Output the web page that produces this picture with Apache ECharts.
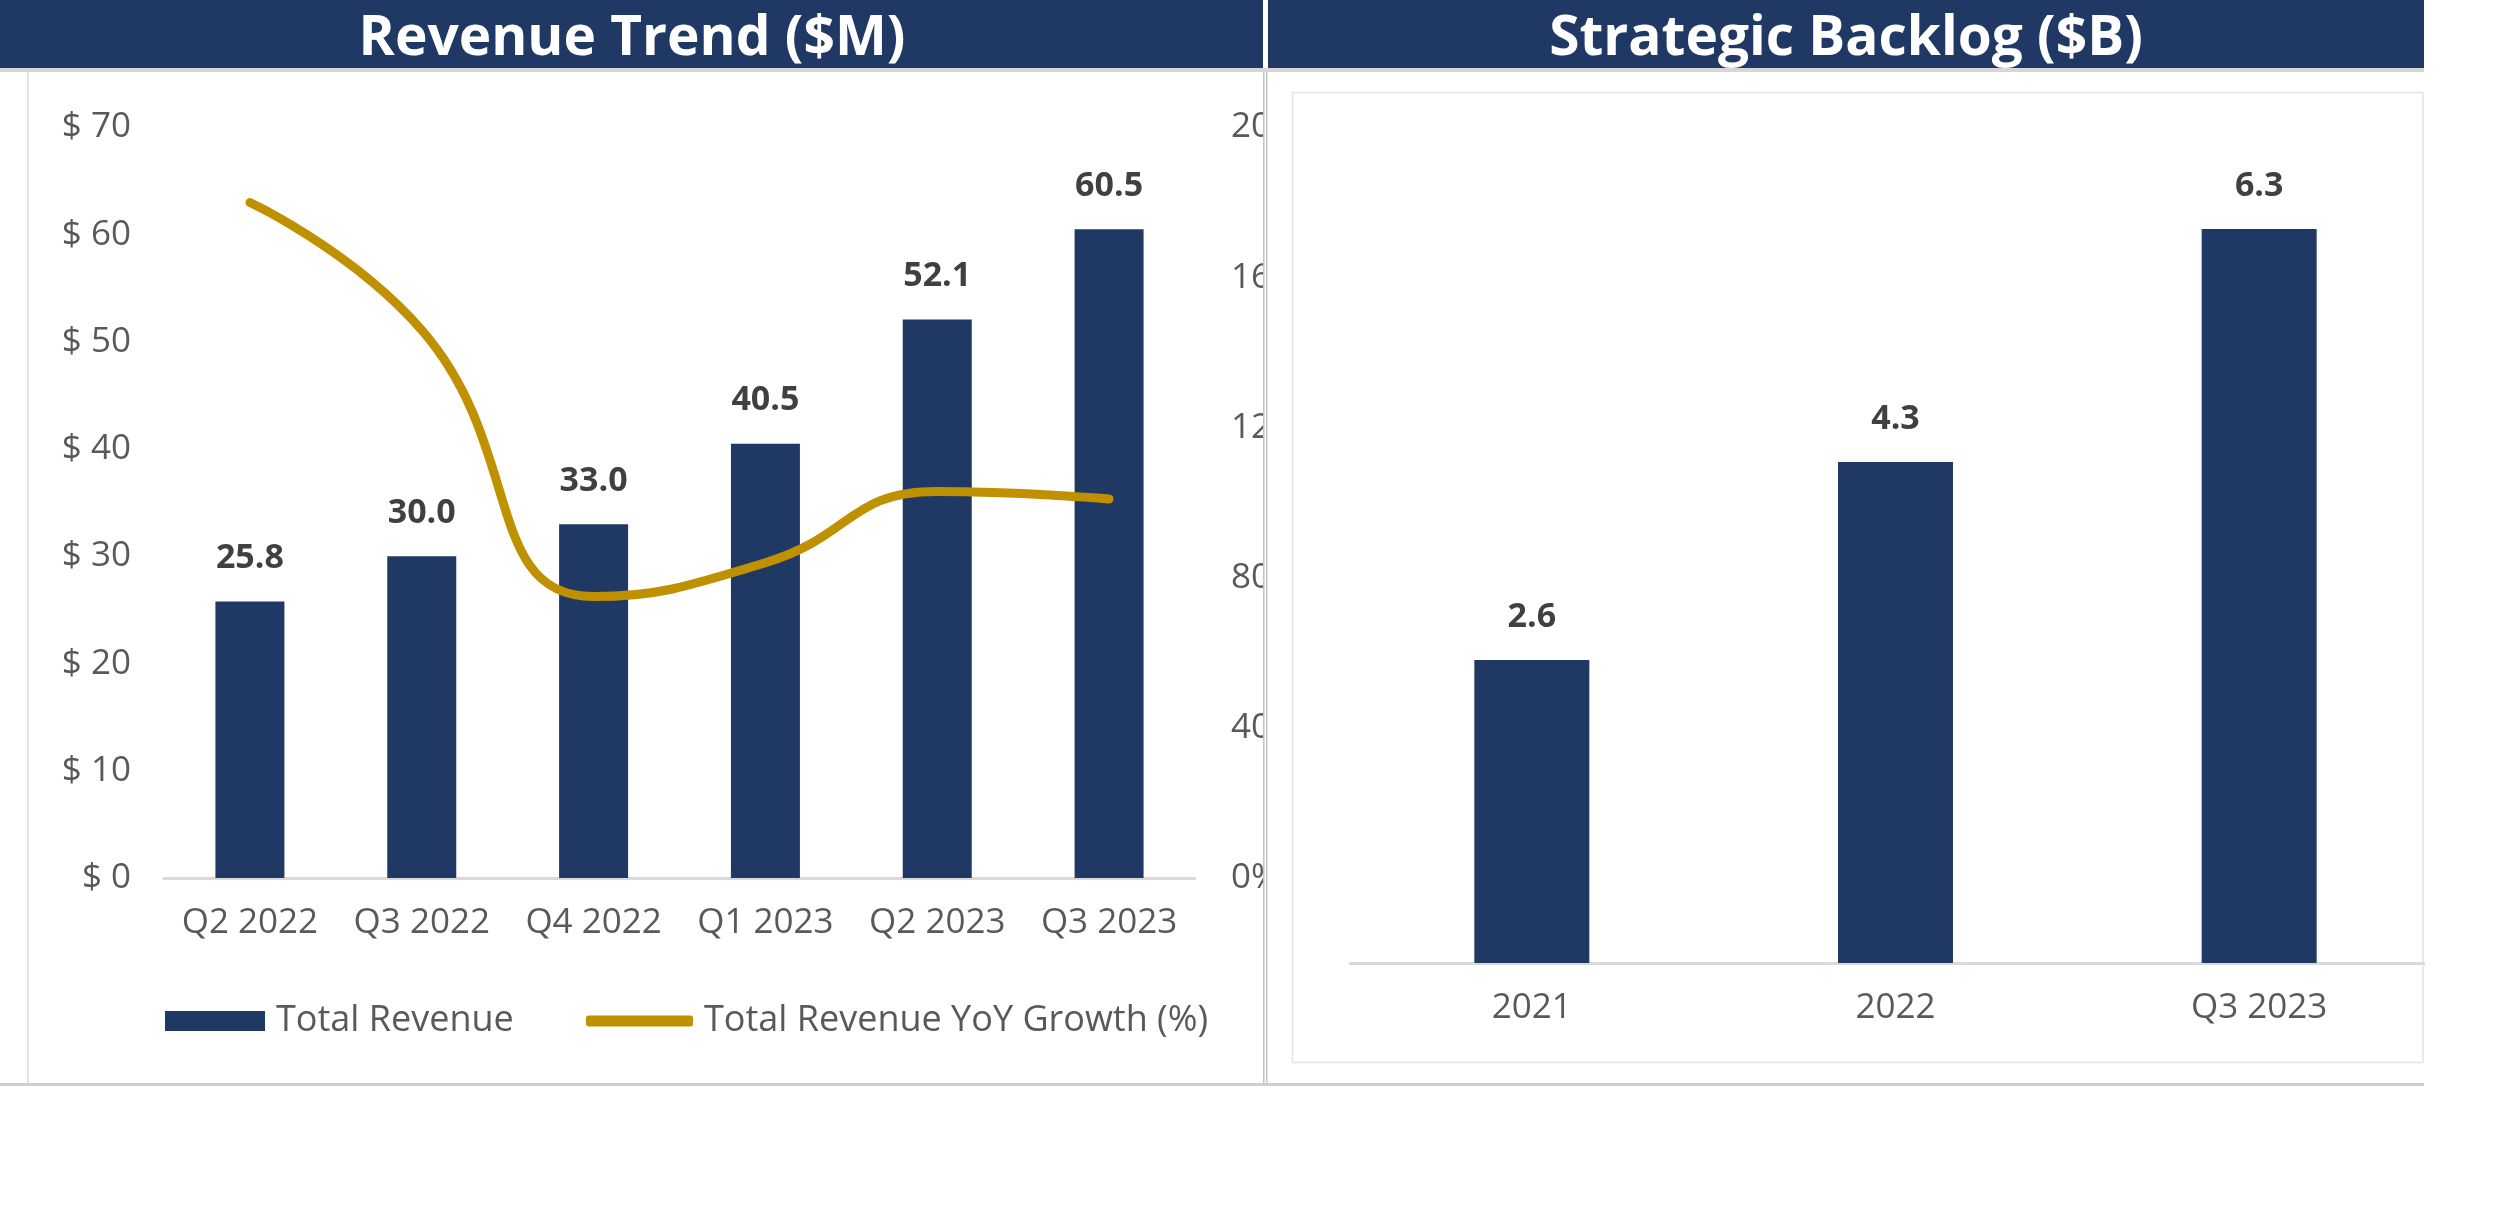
<!DOCTYPE html>
<html><head><meta charset="utf-8">
<script src="https://cdn.jsdelivr.net/npm/echarts@6/dist/echarts.min.js"></script>
<style>
html,body{margin:0;padding:0;background:#fff;}
#a{position:absolute;left:0;top:0;width:1263px;height:1205px;}
#b{position:absolute;left:1263px;top:0;width:1162px;height:1205px;}
</style></head><body>
<div id="a"></div><div id="b"></div>
<script>
// ---- data ----
const revenueCategories = ['Q2 2022','Q3 2022','Q4 2022','Q1 2023','Q2 2023','Q3 2023'];
const totalRevenue = [25.8, 30.0, 33.0, 40.5, 52.1, 60.5];
const revenueYoYGrowth = [180, 146, 75, 84, 103, 101];
const revenueTicks = [0, 10, 20, 30, 40, 50, 60, 70];
const growthTicks = [0, 40, 80, 120, 160, 200];
const backlogCategories = ['2021', '2022', 'Q3 2023'];
const strategicBacklog = [2.6, 4.3, 6.3];
const backlogMax = 7;

// ---- styles ----
const FONT = '"Open Sans"';
const NAVY = '#1F3864', GOLD = '#BF9000', AXIS = '#595959', LABEL = '#404040', RULE = '#D9D9D9';

const chartA = echarts.init(document.getElementById('a'));
chartA.setOption({
  animation: false,
  textStyle: { fontFamily: FONT },
  graphic: [
    { type: 'rect', shape: { x: 0, y: 0, width: 1263, height: 68 }, style: { fill: NAVY } },
    { type: 'rect', shape: { x: 0, y: 68, width: 1263, height: 4 }, style: { fill: '#D6D6D6' } },
    { type: 'rect', shape: { x: 27, y: 72, width: 1.5, height: 1011 }, style: { fill: RULE } },
    { type: 'rect', shape: { x: 0, y: 1083, width: 1263, height: 3 }, style: { fill: '#D0D0D0' } },
    { type: 'text', x: 632, y: 39, style: { text: 'Revenue Trend ($M)', fill: '#fff', font: 'bold 55px "Open Sans"', align: 'center', verticalAlign: 'middle' } }
  ],
  legend: [
    { left: 160, top: 998, itemWidth: 100, itemHeight: 20, icon: 'rect', data: ['Total Revenue'],
      textStyle: { fontSize: 36, color: AXIS, fontFamily: FONT, padding: [0, 0, 0, 6] } },
    { left: 581, top: 998, itemWidth: 107, itemHeight: 11, data: [{ name: 'Total Revenue YoY Growth (%)', icon: 'roundRect' }],
      textStyle: { fontSize: 36, color: AXIS, fontFamily: FONT, padding: [0, 0, 0, 6] } }
  ],
  grid: { left: 164, width: 1031, top: 127.5, height: 750.5, containLabel: false, outerBoundsMode: 'none' },
  xAxis: {
    type: 'category', data: revenueCategories,
    axisLine: { lineStyle: { color: RULE, width: 3 } }, axisTick: { show: false },
    axisLabel: { interval: 0, fontSize: 35, color: AXIS, margin: 28, fontFamily: FONT }
  },
  yAxis: [
    { type: 'value', min: revenueTicks[0], max: revenueTicks[revenueTicks.length - 1], interval: revenueTicks[1] - revenueTicks[0],
      axisLine: { show: false }, axisTick: { show: false }, splitLine: { show: false },
      axisLabel: { formatter: v => '$ ' + v, fontSize: 35, color: AXIS, margin: 33, fontFamily: FONT } },
    { type: 'value', position: 'right', min: growthTicks[0], max: growthTicks[growthTicks.length - 1], interval: growthTicks[1] - growthTicks[0],
      axisLine: { show: false }, axisTick: { show: false }, splitLine: { show: false },
      axisLabel: { formatter: '{value}%', fontSize: 35, color: AXIS, margin: 36, fontFamily: FONT } }
  ],
  series: [
    { name: 'Total Revenue', type: 'bar', data: totalRevenue, barWidth: 69, itemStyle: { color: NAVY },
      label: { show: true, position: 'top', distance: 26, fontSize: 34, fontWeight: 'bold', color: LABEL, fontFamily: FONT,
        formatter: p => p.value.toFixed(1) } },
    { name: 'Total Revenue YoY Growth (%)', type: 'line', yAxisIndex: 1, data: revenueYoYGrowth, smooth: 0.5,
      showSymbol: false, symbol: 'none', z: 3,
      lineStyle: { color: GOLD, width: 9, cap: 'round' }, itemStyle: { color: GOLD } }
  ]
});

const chartB = echarts.init(document.getElementById('b'));
chartB.setOption({
  animation: false,
  textStyle: { fontFamily: FONT },
  graphic: [
    { type: 'rect', shape: { x: 0, y: 72, width: 1.5, height: 1011 }, style: { fill: '#C4C4C4' } },
    { type: 'rect', shape: { x: 3, y: 72, width: 1.5, height: 1011 }, style: { fill: '#C4C4C4' } },
    { type: 'rect', shape: { x: 5, y: 0, width: 1156, height: 68 }, style: { fill: NAVY } },
    { type: 'rect', shape: { x: 0, y: 68, width: 1161, height: 4 }, style: { fill: '#D6D6D6' } },
    { type: 'rect', shape: { x: 29.5, y: 92.5, width: 1130.5, height: 970 }, style: { fill: 'none', stroke: '#E3E3E3', lineWidth: 1.5 } },
    { type: 'rect', shape: { x: 0, y: 1083, width: 1161, height: 3 }, style: { fill: '#D0D0D0' } },
    { type: 'text', x: 583, y: 39, style: { text: 'Strategic Backlog ($B)', fill: '#fff', font: 'bold 55px "Open Sans"', align: 'center', verticalAlign: 'middle' } }
  ],
  grid: { left: 87, width: 1091, top: 147.5, height: 815.5, containLabel: false, outerBoundsMode: 'none' },
  xAxis: {
    type: 'category', data: backlogCategories,
    axisLine: { lineStyle: { color: RULE, width: 3 } }, axisTick: { show: false },
    axisLabel: { interval: 0, fontSize: 35, color: AXIS, margin: 28, fontFamily: FONT }
  },
  yAxis: { type: 'value', min: 0, max: backlogMax, show: false, splitLine: { show: false } },
  series: [
    { name: 'Strategic Backlog', type: 'bar', data: strategicBacklog, barWidth: 115, itemStyle: { color: NAVY },
      label: { show: true, position: 'top', distance: 26, fontSize: 34, fontWeight: 'bold', color: LABEL, fontFamily: FONT,
        formatter: p => p.value.toFixed(1) } }
  ]
});
</script>
</body></html>
